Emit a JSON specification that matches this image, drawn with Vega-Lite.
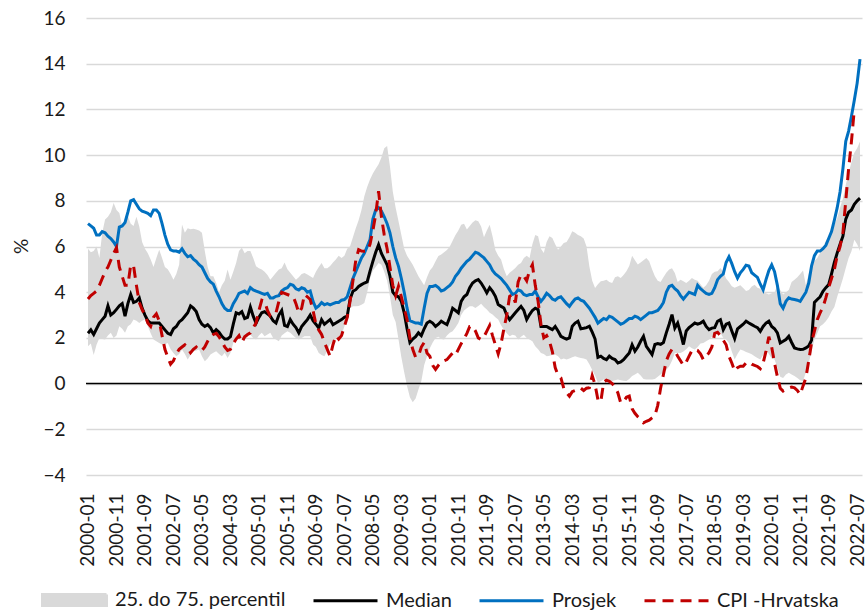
{
"$schema":"https://vega.github.io/schema/vega-lite/v6.json",
"width":776,"height":457,
"autosize":{"type":"none"},
"padding":{"left":86,"top":18,"right":6,"bottom":137},
"config":{"font":"Lato","view":{"stroke":null},"axis":{"labelFont":"Lato","titleFont":"Lato","labelColor":"#1a1a1a","titleColor":"#1a1a1a"}},
"data":{"values":[
{"m":"2000-01","lo":1.63,"hi":5.9,"med":2.2,"avg":7.0,"cpi":3.7},
{"m":"2000-02","lo":1.75,"hi":5.75,"med":2.35,"avg":6.9,"cpi":3.85},
{"m":"2000-03","lo":1.25,"hi":5.8,"med":2.15,"avg":6.8,"cpi":3.95},
{"m":"2000-04","lo":1.7,"hi":6.0,"med":2.4,"avg":6.5,"cpi":4.05},
{"m":"2000-05","lo":2.0,"hi":5.5,"med":2.65,"avg":6.5,"cpi":4.3},
{"m":"2000-06","lo":1.95,"hi":6.6,"med":2.8,"avg":6.65,"cpi":4.6},
{"m":"2000-07","lo":1.93,"hi":7.18,"med":2.95,"avg":6.6,"cpi":4.9},
{"m":"2000-08","lo":2.1,"hi":7.3,"med":3.4,"avg":6.45,"cpi":5.1},
{"m":"2000-09","lo":2.22,"hi":7.5,"med":3.0,"avg":6.35,"cpi":5.4},
{"m":"2000-10","lo":2.0,"hi":7.9,"med":3.1,"avg":6.2,"cpi":5.7},
{"m":"2000-11","lo":2.1,"hi":7.6,"med":3.25,"avg":6.0,"cpi":5.95},
{"m":"2000-12","lo":2.51,"hi":7.47,"med":3.4,"avg":6.85,"cpi":5.1},
{"m":"2001-01","lo":2.4,"hi":6.9,"med":3.5,"avg":6.9,"cpi":4.7},
{"m":"2001-02","lo":2.22,"hi":7.1,"med":2.95,"avg":7.05,"cpi":4.3},
{"m":"2001-03","lo":2.51,"hi":7.32,"med":3.5,"avg":7.5,"cpi":4.3},
{"m":"2001-04","lo":2.6,"hi":7.0,"med":3.9,"avg":8.0,"cpi":5.2},
{"m":"2001-05","lo":2.8,"hi":6.9,"med":3.55,"avg":8.05,"cpi":5.15},
{"m":"2001-06","lo":2.75,"hi":7.3,"med":3.6,"avg":7.85,"cpi":4.3},
{"m":"2001-07","lo":2.65,"hi":6.88,"med":3.75,"avg":7.65,"cpi":3.55},
{"m":"2001-08","lo":2.75,"hi":6.2,"med":3.3,"avg":7.55,"cpi":3.24},
{"m":"2001-09","lo":2.8,"hi":5.9,"med":3.0,"avg":7.5,"cpi":3.0},
{"m":"2001-10","lo":2.51,"hi":5.7,"med":2.75,"avg":7.45,"cpi":2.65},
{"m":"2001-11","lo":2.2,"hi":5.43,"med":2.65,"avg":7.35,"cpi":2.5},
{"m":"2001-12","lo":1.93,"hi":5.1,"med":2.65,"avg":7.6,"cpi":2.9},
{"m":"2002-01","lo":1.85,"hi":5.5,"med":2.65,"avg":7.6,"cpi":3.05},
{"m":"2002-02","lo":1.78,"hi":5.86,"med":2.65,"avg":7.45,"cpi":2.75},
{"m":"2002-03","lo":1.71,"hi":5.5,"med":2.5,"avg":7.0,"cpi":2.1},
{"m":"2002-04","lo":1.72,"hi":5.1,"med":2.35,"avg":6.5,"cpi":1.5},
{"m":"2002-05","lo":1.78,"hi":5.0,"med":2.2,"avg":6.1,"cpi":1.15},
{"m":"2002-06","lo":1.5,"hi":4.8,"med":2.15,"avg":5.85,"cpi":0.85},
{"m":"2002-07","lo":1.34,"hi":4.55,"med":2.4,"avg":5.8,"cpi":1.0},
{"m":"2002-08","lo":1.2,"hi":4.8,"med":2.5,"avg":5.8,"cpi":1.3},
{"m":"2002-09","lo":1.3,"hi":5.2,"med":2.7,"avg":5.75,"cpi":1.5},
{"m":"2002-10","lo":1.49,"hi":6.96,"med":2.8,"avg":5.9,"cpi":1.6},
{"m":"2002-11","lo":1.3,"hi":6.6,"med":2.95,"avg":5.7,"cpi":1.7},
{"m":"2002-12","lo":1.05,"hi":6.8,"med":3.1,"avg":5.55,"cpi":1.55},
{"m":"2003-01","lo":1.25,"hi":6.75,"med":3.4,"avg":5.6,"cpi":1.35},
{"m":"2003-02","lo":1.42,"hi":6.78,"med":3.3,"avg":5.45,"cpi":1.5},
{"m":"2003-03","lo":1.45,"hi":6.74,"med":3.15,"avg":5.35,"cpi":1.6},
{"m":"2003-04","lo":1.49,"hi":6.7,"med":2.8,"avg":5.2,"cpi":1.45},
{"m":"2003-05","lo":1.2,"hi":6.6,"med":2.6,"avg":5.1,"cpi":1.45},
{"m":"2003-06","lo":0.98,"hi":5.8,"med":2.5,"avg":4.85,"cpi":1.6},
{"m":"2003-07","lo":1.1,"hi":5.1,"med":2.58,"avg":4.6,"cpi":1.85},
{"m":"2003-08","lo":1.27,"hi":4.7,"med":2.45,"avg":4.45,"cpi":2.05},
{"m":"2003-09","lo":1.35,"hi":4.7,"med":2.22,"avg":4.35,"cpi":2.15},
{"m":"2003-10","lo":1.42,"hi":4.4,"med":2.36,"avg":4.05,"cpi":2.2},
{"m":"2003-11","lo":1.3,"hi":4.0,"med":2.25,"avg":3.8,"cpi":2.05},
{"m":"2003-12","lo":1.2,"hi":4.3,"med":2.07,"avg":3.5,"cpi":1.85},
{"m":"2004-01","lo":1.35,"hi":4.5,"med":1.95,"avg":3.3,"cpi":1.6},
{"m":"2004-02","lo":1.12,"hi":4.99,"med":1.95,"avg":3.2,"cpi":1.45},
{"m":"2004-03","lo":1.34,"hi":4.55,"med":2.05,"avg":3.2,"cpi":1.5},
{"m":"2004-04","lo":1.78,"hi":4.9,"med":2.6,"avg":3.5,"cpi":1.75},
{"m":"2004-05","lo":1.95,"hi":5.28,"med":3.1,"avg":3.7,"cpi":1.95},
{"m":"2004-06","lo":2.07,"hi":5.8,"med":3.05,"avg":3.95,"cpi":2.1},
{"m":"2004-07","lo":2.0,"hi":5.94,"med":3.15,"avg":4.0,"cpi":1.8},
{"m":"2004-08","lo":1.93,"hi":5.7,"med":2.85,"avg":4.05,"cpi":2.05},
{"m":"2004-09","lo":2.05,"hi":5.8,"med":2.9,"avg":3.95,"cpi":2.15},
{"m":"2004-10","lo":2.14,"hi":5.8,"med":3.35,"avg":4.2,"cpi":2.22},
{"m":"2004-11","lo":2.0,"hi":5.5,"med":2.95,"avg":4.1,"cpi":2.45},
{"m":"2004-12","lo":1.93,"hi":5.14,"med":2.65,"avg":4.05,"cpi":2.65},
{"m":"2005-01","lo":2.1,"hi":5.05,"med":2.9,"avg":4.0,"cpi":3.2},
{"m":"2005-02","lo":2.22,"hi":4.99,"med":3.1,"avg":3.95,"cpi":3.65},
{"m":"2005-03","lo":2.07,"hi":4.9,"med":3.15,"avg":3.9,"cpi":3.6},
{"m":"2005-04","lo":2.15,"hi":4.75,"med":3.05,"avg":3.95,"cpi":3.2},
{"m":"2005-05","lo":2.22,"hi":4.55,"med":2.95,"avg":3.75,"cpi":2.95},
{"m":"2005-06","lo":2.0,"hi":4.7,"med":2.75,"avg":3.75,"cpi":3.0},
{"m":"2005-07","lo":1.93,"hi":4.85,"med":2.65,"avg":3.82,"cpi":3.1},
{"m":"2005-08","lo":1.85,"hi":4.99,"med":3.0,"avg":3.85,"cpi":3.6},
{"m":"2005-09","lo":2.1,"hi":5.05,"med":3.2,"avg":4.05,"cpi":4.0},
{"m":"2005-10","lo":2.2,"hi":5.3,"med":2.55,"avg":4.15,"cpi":3.95},
{"m":"2005-11","lo":2.29,"hi":5.0,"med":2.5,"avg":4.2,"cpi":3.9},
{"m":"2005-12","lo":2.22,"hi":4.85,"med":2.8,"avg":4.35,"cpi":3.85},
{"m":"2006-01","lo":2.1,"hi":4.7,"med":2.6,"avg":4.3,"cpi":3.82},
{"m":"2006-02","lo":2.0,"hi":4.55,"med":2.45,"avg":4.15,"cpi":3.5},
{"m":"2006-03","lo":1.93,"hi":4.65,"med":2.22,"avg":4.1,"cpi":3.09},
{"m":"2006-04","lo":2.0,"hi":4.8,"med":2.5,"avg":4.2,"cpi":3.3},
{"m":"2006-05","lo":2.07,"hi":4.84,"med":2.65,"avg":4.15,"cpi":3.9},
{"m":"2006-06","lo":2.07,"hi":4.77,"med":2.8,"avg":4.0,"cpi":3.8},
{"m":"2006-07","lo":2.07,"hi":4.7,"med":3.0,"avg":4.05,"cpi":3.68},
{"m":"2006-08","lo":1.71,"hi":4.62,"med":2.75,"avg":3.6,"cpi":3.2},
{"m":"2006-09","lo":1.6,"hi":4.9,"med":2.6,"avg":3.3,"cpi":2.6},
{"m":"2006-10","lo":1.34,"hi":5.1,"med":2.43,"avg":3.4,"cpi":2.35},
{"m":"2006-11","lo":1.25,"hi":5.28,"med":2.8,"avg":3.55,"cpi":2.15},
{"m":"2006-12","lo":1.2,"hi":5.05,"med":2.6,"avg":3.45,"cpi":1.8},
{"m":"2007-01","lo":1.45,"hi":5.05,"med":2.7,"avg":3.5,"cpi":1.5},
{"m":"2007-02","lo":1.71,"hi":5.15,"med":2.8,"avg":3.45,"cpi":1.2},
{"m":"2007-03","lo":1.85,"hi":5.3,"med":2.58,"avg":3.5,"cpi":1.7},
{"m":"2007-04","lo":1.95,"hi":5.43,"med":2.65,"avg":3.55,"cpi":2.1},
{"m":"2007-05","lo":2.07,"hi":5.6,"med":2.73,"avg":3.55,"cpi":1.95},
{"m":"2007-06","lo":2.15,"hi":5.5,"med":2.8,"avg":3.65,"cpi":2.1},
{"m":"2007-07","lo":2.5,"hi":5.6,"med":2.9,"avg":3.68,"cpi":2.5},
{"m":"2007-08","lo":3.0,"hi":5.9,"med":2.95,"avg":3.8,"cpi":2.9},
{"m":"2007-09","lo":3.3,"hi":6.01,"med":3.7,"avg":4.2,"cpi":3.6},
{"m":"2007-10","lo":3.38,"hi":6.4,"med":4.04,"avg":4.6,"cpi":4.5},
{"m":"2007-11","lo":3.38,"hi":6.8,"med":4.11,"avg":4.9,"cpi":5.4},
{"m":"2007-12","lo":3.4,"hi":7.15,"med":4.25,"avg":5.2,"cpi":5.86},
{"m":"2008-01","lo":3.45,"hi":7.6,"med":4.33,"avg":5.5,"cpi":5.8},
{"m":"2008-02","lo":3.53,"hi":8.2,"med":4.4,"avg":5.7,"cpi":5.79},
{"m":"2008-03","lo":4.0,"hi":8.6,"med":4.45,"avg":6.0,"cpi":5.8},
{"m":"2008-04","lo":4.6,"hi":8.93,"med":4.92,"avg":6.3,"cpi":6.1},
{"m":"2008-05","lo":4.95,"hi":9.2,"med":5.35,"avg":7.2,"cpi":6.7},
{"m":"2008-06","lo":5.1,"hi":9.4,"med":5.75,"avg":7.6,"cpi":7.4},
{"m":"2008-07","lo":5.28,"hi":9.6,"med":6.08,"avg":7.7,"cpi":8.42},
{"m":"2008-08","lo":5.2,"hi":9.9,"med":5.7,"avg":7.55,"cpi":7.3},
{"m":"2008-09","lo":4.9,"hi":10.3,"med":5.45,"avg":7.3,"cpi":6.5},
{"m":"2008-10","lo":4.5,"hi":10.4,"med":5.2,"avg":7.0,"cpi":5.9},
{"m":"2008-11","lo":3.82,"hi":9.5,"med":4.7,"avg":6.6,"cpi":5.1},
{"m":"2008-12","lo":3.0,"hi":8.4,"med":4.0,"avg":6.0,"cpi":4.3},
{"m":"2009-01","lo":2.7,"hi":7.7,"med":3.85,"avg":5.5,"cpi":3.85},
{"m":"2009-02","lo":1.93,"hi":7.1,"med":3.8,"avg":5.13,"cpi":4.26},
{"m":"2009-03","lo":1.15,"hi":6.5,"med":3.6,"avg":4.6,"cpi":3.8},
{"m":"2009-04","lo":0.5,"hi":5.9,"med":3.1,"avg":4.0,"cpi":3.3},
{"m":"2009-05","lo":-0.1,"hi":5.6,"med":2.4,"avg":3.3,"cpi":2.8},
{"m":"2009-06","lo":-0.6,"hi":5.4,"med":1.8,"avg":2.75,"cpi":2.0},
{"m":"2009-07","lo":-0.82,"hi":5.2,"med":1.95,"avg":2.7,"cpi":1.5},
{"m":"2009-08","lo":-0.65,"hi":4.95,"med":2.05,"avg":2.65,"cpi":1.15},
{"m":"2009-09","lo":-0.26,"hi":4.7,"med":2.22,"avg":2.65,"cpi":1.2},
{"m":"2009-10","lo":0.1,"hi":4.5,"med":2.1,"avg":2.6,"cpi":1.6},
{"m":"2009-11","lo":0.8,"hi":4.3,"med":2.4,"avg":3.3,"cpi":1.8},
{"m":"2009-12","lo":1.2,"hi":4.65,"med":2.65,"avg":3.95,"cpi":1.34},
{"m":"2010-01","lo":1.55,"hi":4.95,"med":2.73,"avg":4.25,"cpi":1.2},
{"m":"2010-02","lo":1.8,"hi":5.1,"med":2.65,"avg":4.25,"cpi":0.8},
{"m":"2010-03","lo":2.0,"hi":5.35,"med":2.5,"avg":4.3,"cpi":0.62},
{"m":"2010-04","lo":2.05,"hi":5.58,"med":2.6,"avg":4.2,"cpi":0.8},
{"m":"2010-05","lo":1.95,"hi":5.65,"med":2.73,"avg":4.05,"cpi":0.95},
{"m":"2010-06","lo":1.93,"hi":5.75,"med":2.65,"avg":4.1,"cpi":1.0},
{"m":"2010-07","lo":2.1,"hi":5.85,"med":2.58,"avg":4.2,"cpi":1.05},
{"m":"2010-08","lo":2.22,"hi":6.0,"med":2.9,"avg":4.3,"cpi":1.2},
{"m":"2010-09","lo":2.29,"hi":6.25,"med":3.3,"avg":4.45,"cpi":1.34},
{"m":"2010-10","lo":2.45,"hi":6.5,"med":3.2,"avg":4.7,"cpi":1.25},
{"m":"2010-11","lo":2.65,"hi":6.7,"med":3.1,"avg":4.85,"cpi":1.5},
{"m":"2010-12","lo":3.0,"hi":6.95,"med":3.6,"avg":5.05,"cpi":1.75},
{"m":"2011-01","lo":3.2,"hi":7.0,"med":3.8,"avg":5.2,"cpi":1.95},
{"m":"2011-02","lo":3.3,"hi":6.74,"med":3.9,"avg":5.35,"cpi":2.2},
{"m":"2011-03","lo":3.38,"hi":6.9,"med":4.2,"avg":5.45,"cpi":2.5},
{"m":"2011-04","lo":3.38,"hi":7.05,"med":4.4,"avg":5.6,"cpi":2.5},
{"m":"2011-05","lo":3.31,"hi":7.15,"med":4.5,"avg":5.75,"cpi":2.3},
{"m":"2011-06","lo":3.4,"hi":7.1,"med":4.55,"avg":5.7,"cpi":2.0},
{"m":"2011-07","lo":3.5,"hi":6.88,"med":4.4,"avg":5.6,"cpi":1.93},
{"m":"2011-08","lo":3.35,"hi":6.4,"med":4.2,"avg":5.5,"cpi":2.05},
{"m":"2011-09","lo":3.24,"hi":6.7,"med":3.97,"avg":5.35,"cpi":2.3},
{"m":"2011-10","lo":3.1,"hi":6.95,"med":4.2,"avg":5.2,"cpi":2.55},
{"m":"2011-11","lo":3.02,"hi":6.45,"med":4.04,"avg":4.95,"cpi":2.1},
{"m":"2011-12","lo":2.9,"hi":5.85,"med":3.82,"avg":4.8,"cpi":1.7},
{"m":"2012-01","lo":2.8,"hi":5.6,"med":3.46,"avg":4.7,"cpi":1.3},
{"m":"2012-02","lo":2.55,"hi":5.43,"med":3.38,"avg":4.6,"cpi":1.75},
{"m":"2012-03","lo":2.36,"hi":5.0,"med":3.31,"avg":4.45,"cpi":2.4},
{"m":"2012-04","lo":2.2,"hi":4.7,"med":3.0,"avg":4.3,"cpi":3.0},
{"m":"2012-05","lo":2.07,"hi":4.85,"med":2.8,"avg":4.1,"cpi":3.82},
{"m":"2012-06","lo":2.14,"hi":4.95,"med":2.95,"avg":3.9,"cpi":3.9},
{"m":"2012-07","lo":2.1,"hi":5.06,"med":3.1,"avg":3.95,"cpi":3.55},
{"m":"2012-08","lo":1.93,"hi":5.2,"med":3.24,"avg":4.1,"cpi":4.45},
{"m":"2012-09","lo":2.05,"hi":5.28,"med":3.38,"avg":4.05,"cpi":4.77},
{"m":"2012-10","lo":2.14,"hi":5.5,"med":3.2,"avg":3.9,"cpi":4.7},
{"m":"2012-11","lo":2.0,"hi":5.6,"med":2.8,"avg":3.85,"cpi":4.5},
{"m":"2012-12","lo":1.93,"hi":5.5,"med":3.02,"avg":3.9,"cpi":4.95},
{"m":"2013-01","lo":1.85,"hi":6.1,"med":3.2,"avg":3.9,"cpi":5.2},
{"m":"2013-02","lo":1.63,"hi":6.5,"med":3.3,"avg":4.05,"cpi":4.3},
{"m":"2013-03","lo":1.5,"hi":6.45,"med":3.24,"avg":3.8,"cpi":3.6},
{"m":"2013-04","lo":1.34,"hi":5.9,"med":2.5,"avg":3.6,"cpi":2.6},
{"m":"2013-05","lo":1.3,"hi":5.72,"med":2.5,"avg":3.75,"cpi":2.0},
{"m":"2013-06","lo":1.2,"hi":6.2,"med":2.5,"avg":3.95,"cpi":2.1},
{"m":"2013-07","lo":1.22,"hi":6.45,"med":2.43,"avg":3.85,"cpi":1.85},
{"m":"2013-08","lo":1.25,"hi":6.37,"med":2.36,"avg":3.7,"cpi":1.4},
{"m":"2013-09","lo":1.27,"hi":6.1,"med":2.5,"avg":3.65,"cpi":0.7},
{"m":"2013-10","lo":1.2,"hi":5.86,"med":2.3,"avg":3.75,"cpi":0.35},
{"m":"2013-11","lo":1.05,"hi":6.0,"med":2.07,"avg":3.8,"cpi":0.25},
{"m":"2013-12","lo":1.1,"hi":6.15,"med":2.0,"avg":3.65,"cpi":-0.2},
{"m":"2014-01","lo":1.05,"hi":6.2,"med":1.95,"avg":3.5,"cpi":-0.4},
{"m":"2014-02","lo":1.1,"hi":6.4,"med":2.0,"avg":3.38,"cpi":-0.55},
{"m":"2014-03","lo":1.15,"hi":6.67,"med":2.51,"avg":3.55,"cpi":-0.35},
{"m":"2014-04","lo":1.2,"hi":6.6,"med":2.65,"avg":3.7,"cpi":-0.3},
{"m":"2014-05","lo":1.15,"hi":6.5,"med":2.73,"avg":3.75,"cpi":-0.3},
{"m":"2014-06","lo":1.12,"hi":6.45,"med":2.4,"avg":3.65,"cpi":-0.2},
{"m":"2014-07","lo":1.1,"hi":6.35,"med":2.42,"avg":3.6,"cpi":-0.3},
{"m":"2014-08","lo":1.05,"hi":6.0,"med":2.45,"avg":3.45,"cpi":-0.2},
{"m":"2014-09","lo":0.85,"hi":5.13,"med":2.51,"avg":3.3,"cpi":-0.18},
{"m":"2014-10","lo":0.6,"hi":4.5,"med":2.25,"avg":3.1,"cpi":0.35},
{"m":"2014-11","lo":0.35,"hi":4.18,"med":1.95,"avg":2.9,"cpi":-0.05},
{"m":"2014-12","lo":0.04,"hi":4.35,"med":1.15,"avg":2.65,"cpi":-0.7},
{"m":"2015-01","lo":0.1,"hi":4.48,"med":1.2,"avg":2.75,"cpi":-0.8},
{"m":"2015-02","lo":0.18,"hi":4.5,"med":1.1,"avg":2.85,"cpi":0.05},
{"m":"2015-03","lo":0.15,"hi":4.55,"med":1.05,"avg":2.8,"cpi":0.15},
{"m":"2015-04","lo":0.12,"hi":4.45,"med":1.2,"avg":2.95,"cpi":0.1},
{"m":"2015-05","lo":0.11,"hi":4.4,"med":1.1,"avg":2.9,"cpi":0.0},
{"m":"2015-06","lo":0.15,"hi":4.65,"med":1.05,"avg":2.8,"cpi":-0.15},
{"m":"2015-07","lo":0.18,"hi":4.7,"med":0.9,"avg":2.7,"cpi":-0.4},
{"m":"2015-08","lo":0.15,"hi":4.62,"med":0.95,"avg":2.6,"cpi":-0.84},
{"m":"2015-09","lo":0.12,"hi":4.75,"med":1.05,"avg":2.65,"cpi":-0.8},
{"m":"2015-10","lo":0.11,"hi":4.92,"med":1.2,"avg":2.75,"cpi":-0.6},
{"m":"2015-11","lo":0.2,"hi":5.15,"med":1.34,"avg":2.85,"cpi":-0.55},
{"m":"2015-12","lo":0.33,"hi":5.6,"med":1.7,"avg":2.85,"cpi":-1.1},
{"m":"2016-01","lo":0.4,"hi":5.4,"med":1.42,"avg":2.95,"cpi":-1.3},
{"m":"2016-02","lo":0.47,"hi":5.21,"med":1.6,"avg":2.9,"cpi":-1.45},
{"m":"2016-03","lo":0.35,"hi":5.3,"med":1.85,"avg":2.8,"cpi":-1.55},
{"m":"2016-04","lo":0.2,"hi":5.4,"med":2.07,"avg":2.9,"cpi":-1.72},
{"m":"2016-05","lo":0.18,"hi":5.5,"med":1.63,"avg":3.0,"cpi":-1.65},
{"m":"2016-06","lo":0.18,"hi":5.35,"med":1.45,"avg":3.1,"cpi":-1.6},
{"m":"2016-07","lo":0.18,"hi":5.0,"med":1.27,"avg":3.1,"cpi":-1.5},
{"m":"2016-08","lo":0.2,"hi":4.7,"med":1.71,"avg":3.15,"cpi":-1.4},
{"m":"2016-09","lo":0.3,"hi":4.5,"med":1.75,"avg":3.2,"cpi":-0.95},
{"m":"2016-10","lo":0.4,"hi":4.45,"med":1.72,"avg":3.35,"cpi":-0.2},
{"m":"2016-11","lo":0.5,"hi":4.65,"med":1.8,"avg":3.55,"cpi":0.4},
{"m":"2016-12","lo":0.61,"hi":4.85,"med":2.22,"avg":4.0,"cpi":1.0},
{"m":"2017-01","lo":0.75,"hi":4.99,"med":2.6,"avg":4.25,"cpi":1.3},
{"m":"2017-02","lo":1.0,"hi":5.05,"med":3.02,"avg":4.3,"cpi":1.5},
{"m":"2017-03","lo":1.34,"hi":4.84,"med":2.43,"avg":4.15,"cpi":1.42},
{"m":"2017-04","lo":1.34,"hi":4.45,"med":2.65,"avg":4.05,"cpi":1.2},
{"m":"2017-05","lo":1.34,"hi":4.55,"med":2.22,"avg":3.85,"cpi":1.0},
{"m":"2017-06","lo":1.4,"hi":4.48,"med":1.71,"avg":3.7,"cpi":0.8},
{"m":"2017-07","lo":1.5,"hi":4.4,"med":2.3,"avg":3.85,"cpi":0.95},
{"m":"2017-08","lo":1.63,"hi":4.5,"med":2.45,"avg":4.0,"cpi":1.2},
{"m":"2017-09","lo":1.55,"hi":4.62,"med":2.55,"avg":3.95,"cpi":1.45},
{"m":"2017-10","lo":1.49,"hi":4.55,"med":2.65,"avg":3.9,"cpi":1.5},
{"m":"2017-11","lo":1.6,"hi":4.5,"med":2.6,"avg":4.3,"cpi":1.45},
{"m":"2017-12","lo":1.75,"hi":4.35,"med":2.65,"avg":4.15,"cpi":1.3},
{"m":"2018-01","lo":1.78,"hi":4.2,"med":2.73,"avg":4.05,"cpi":1.05},
{"m":"2018-02","lo":1.85,"hi":4.3,"med":2.5,"avg":3.95,"cpi":1.2},
{"m":"2018-03","lo":1.93,"hi":4.5,"med":2.36,"avg":3.9,"cpi":1.35},
{"m":"2018-04","lo":2.05,"hi":4.8,"med":2.43,"avg":3.95,"cpi":1.6},
{"m":"2018-05","lo":2.22,"hi":4.9,"med":2.45,"avg":4.2,"cpi":2.2},
{"m":"2018-06","lo":2.22,"hi":4.92,"med":2.73,"avg":4.55,"cpi":2.25},
{"m":"2018-07","lo":2.22,"hi":5.06,"med":2.8,"avg":4.7,"cpi":2.1},
{"m":"2018-08","lo":2.0,"hi":4.9,"med":2.36,"avg":4.8,"cpi":1.9},
{"m":"2018-09","lo":1.93,"hi":4.6,"med":2.6,"avg":5.3,"cpi":1.7},
{"m":"2018-10","lo":1.78,"hi":4.45,"med":2.65,"avg":5.55,"cpi":1.2},
{"m":"2018-11","lo":1.4,"hi":4.26,"med":2.3,"avg":5.25,"cpi":0.9},
{"m":"2018-12","lo":1.05,"hi":4.2,"med":1.97,"avg":4.9,"cpi":0.55},
{"m":"2019-01","lo":1.3,"hi":4.25,"med":2.4,"avg":4.62,"cpi":0.7},
{"m":"2019-02","lo":1.49,"hi":4.3,"med":2.5,"avg":4.85,"cpi":0.76},
{"m":"2019-03","lo":1.45,"hi":4.18,"med":2.6,"avg":5.0,"cpi":0.76},
{"m":"2019-04","lo":1.38,"hi":4.05,"med":2.73,"avg":5.18,"cpi":0.9},
{"m":"2019-05","lo":1.34,"hi":4.1,"med":2.65,"avg":5.15,"cpi":0.95},
{"m":"2019-06","lo":1.28,"hi":4.25,"med":2.58,"avg":4.85,"cpi":0.85},
{"m":"2019-07","lo":1.2,"hi":4.33,"med":2.51,"avg":4.75,"cpi":0.8},
{"m":"2019-08","lo":1.12,"hi":4.2,"med":2.45,"avg":4.65,"cpi":0.75},
{"m":"2019-09","lo":1.05,"hi":4.15,"med":2.29,"avg":4.35,"cpi":0.65},
{"m":"2019-10","lo":1.25,"hi":4.0,"med":2.5,"avg":4.1,"cpi":0.9},
{"m":"2019-11","lo":1.49,"hi":3.95,"med":2.65,"avg":4.55,"cpi":1.42},
{"m":"2019-12","lo":1.3,"hi":3.9,"med":2.73,"avg":4.95,"cpi":2.05},
{"m":"2020-01","lo":1.1,"hi":3.95,"med":2.5,"avg":5.2,"cpi":1.6},
{"m":"2020-02","lo":1.05,"hi":4.0,"med":2.4,"avg":4.9,"cpi":0.9},
{"m":"2020-03","lo":0.7,"hi":4.3,"med":2.22,"avg":4.3,"cpi":0.3},
{"m":"2020-04","lo":0.3,"hi":4.1,"med":1.78,"avg":3.5,"cpi":-0.2},
{"m":"2020-05","lo":0.25,"hi":3.9,"med":1.85,"avg":3.3,"cpi":-0.33},
{"m":"2020-06","lo":0.4,"hi":4.0,"med":1.93,"avg":3.6,"cpi":-0.25},
{"m":"2020-07","lo":0.47,"hi":4.1,"med":2.07,"avg":3.75,"cpi":-0.19},
{"m":"2020-08","lo":0.4,"hi":4.45,"med":1.8,"avg":3.7,"cpi":-0.15},
{"m":"2020-09","lo":0.33,"hi":4.55,"med":1.56,"avg":3.68,"cpi":-0.19},
{"m":"2020-10","lo":0.25,"hi":4.65,"med":1.52,"avg":3.65,"cpi":-0.3},
{"m":"2020-11","lo":0.15,"hi":4.8,"med":1.49,"avg":3.6,"cpi":-0.48},
{"m":"2020-12","lo":0.11,"hi":4.95,"med":1.5,"avg":3.8,"cpi":-0.1},
{"m":"2021-01","lo":0.5,"hi":4.3,"med":1.56,"avg":4.0,"cpi":0.25},
{"m":"2021-02","lo":0.9,"hi":4.8,"med":1.65,"avg":4.4,"cpi":1.0},
{"m":"2021-03","lo":1.4,"hi":5.1,"med":1.9,"avg":5.15,"cpi":1.8},
{"m":"2021-04","lo":1.93,"hi":5.36,"med":3.55,"avg":5.6,"cpi":2.3},
{"m":"2021-05","lo":2.2,"hi":5.5,"med":3.68,"avg":5.8,"cpi":2.8},
{"m":"2021-06","lo":2.51,"hi":5.72,"med":3.8,"avg":5.8,"cpi":3.1},
{"m":"2021-07","lo":2.6,"hi":5.95,"med":4.04,"avg":5.9,"cpi":3.35},
{"m":"2021-08","lo":2.73,"hi":6.23,"med":4.2,"avg":6.05,"cpi":3.75},
{"m":"2021-09","lo":2.9,"hi":6.45,"med":4.33,"avg":6.35,"cpi":4.2},
{"m":"2021-10","lo":3.16,"hi":6.67,"med":4.8,"avg":6.65,"cpi":4.6},
{"m":"2021-11","lo":3.35,"hi":6.95,"med":5.3,"avg":7.15,"cpi":5.0},
{"m":"2021-12","lo":3.8,"hi":7.25,"med":5.72,"avg":7.7,"cpi":5.6},
{"m":"2022-01","lo":4.19,"hi":7.7,"med":6.1,"avg":8.4,"cpi":6.0},
{"m":"2022-02","lo":4.6,"hi":8.1,"med":6.45,"avg":9.4,"cpi":6.6},
{"m":"2022-03","lo":5.06,"hi":8.7,"med":7.2,"avg":10.6,"cpi":8.0},
{"m":"2022-04","lo":5.5,"hi":9.2,"med":7.5,"avg":11.05,"cpi":9.4},
{"m":"2022-05","lo":5.79,"hi":9.7,"med":7.6,"avg":11.7,"cpi":10.6},
{"m":"2022-06","lo":6.3,"hi":10.1,"med":7.85,"avg":12.4,"cpi":12.0},
{"m":"2022-07","lo":6.1,"hi":10.3,"med":8.0,"avg":13.15,"cpi":null},
{"m":"2022-08","lo":5.8,"hi":10.6,"med":8.12,"avg":14.2,"cpi":null}
]},
"layer":[
{"mark":{"type":"area","interpolate":"linear"},
 "encoding":{
  "x":{"field":"m","type":"ordinal","sort":"ascending","scale":{"type":"point","padding":0.7},
       "axis":{"values":["2000-01","2000-11","2001-09","2002-07","2003-05","2004-03","2005-01","2005-11","2006-09","2007-07","2008-05","2009-03","2010-01","2010-11","2011-09","2012-07","2013-05","2014-03","2015-01","2015-11","2016-09","2017-07","2018-05","2019-03","2020-01","2020-11","2021-09","2022-07"],
               "labelAngle":-90,"labelFontSize":19,"labelPadding":18,"ticks":false,"domain":false,"grid":false,"title":null,"labelOverlap":false}},
  "y":{"field":"lo","type":"quantitative","scale":{"domain":[-4,16],"nice":false,"zero":false},
       "axis":{"values":[-4,-2,0,2,4,6,8,10,12,14,16],"labelFontSize":19,"labelPadding":21,"ticks":false,"domain":false,"gridColor":"#d9d9d9","gridWidth":1.3,"title":"%","titleFontSize":19,"titleFontWeight":"normal","titleX":-55,"titleY":228}},
  "y2":{"field":"hi"},
  "color":{"datum":"25. do 75. percentil","type":"nominal",
    "scale":{"domain":["25. do 75. percentil","Median","Prosjek","CPI -Hrvatska"],"range":["#d9d9d9","#000000","#0070c0","#c00000"]},
    "legend":{"orient":"none","legendX":-45,"legendY":548,"direction":"horizontal","columns":4,"title":null,"padding":0,
      "symbolSize":4096,"labelFontSize":20,"labelFont":"Lato","labelColor":"#1a1a1a","labelLimit":400,"columnPadding":21,"labelOffset":7,
      "encode":{"symbols":{"update":{
        "shape":{"signal":"datum.value === '25. do 75. percentil' ? 'M-1,-0.172H1V0.172H-1Z' : 'stroke'"},
        "fill":{"signal":"datum.value === '25. do 75. percentil' ? '#d9d9d9' : 'transparent'"},
        "stroke":{"signal":"datum.value === 'Median' ? '#000000' : datum.value === 'Prosjek' ? '#0070c0' : datum.value === 'CPI -Hrvatska' ? '#c00000' : 'transparent'"},
        "strokeWidth":{"value":3},
        "strokeDash":{"signal":"datum.value === 'CPI -Hrvatska' ? [11,7] : [1,0]"},
        "opacity":{"value":1}}}}}}
 }},
{"data":{"values":[{}]},"mark":{"type":"rule","color":"#000000","strokeWidth":1.5},"encoding":{"y":{"datum":0}}},
{"mark":{"type":"line","strokeWidth":3,"interpolate":"linear"},
 "encoding":{"x":{"field":"m","type":"ordinal","sort":"ascending"},"y":{"field":"med","type":"quantitative"},"color":{"datum":"Median","type":"nominal"}}},
{"mark":{"type":"line","strokeWidth":3,"interpolate":"linear"},
 "encoding":{"x":{"field":"m","type":"ordinal","sort":"ascending"},"y":{"field":"avg","type":"quantitative"},"color":{"datum":"Prosjek","type":"nominal"}}},
{"mark":{"type":"line","strokeWidth":3,"strokeDash":[11,7],"interpolate":"linear"},
 "encoding":{"x":{"field":"m","type":"ordinal","sort":"ascending"},"y":{"field":"cpi","type":"quantitative"},"color":{"datum":"CPI -Hrvatska","type":"nominal"}}}
]
}
